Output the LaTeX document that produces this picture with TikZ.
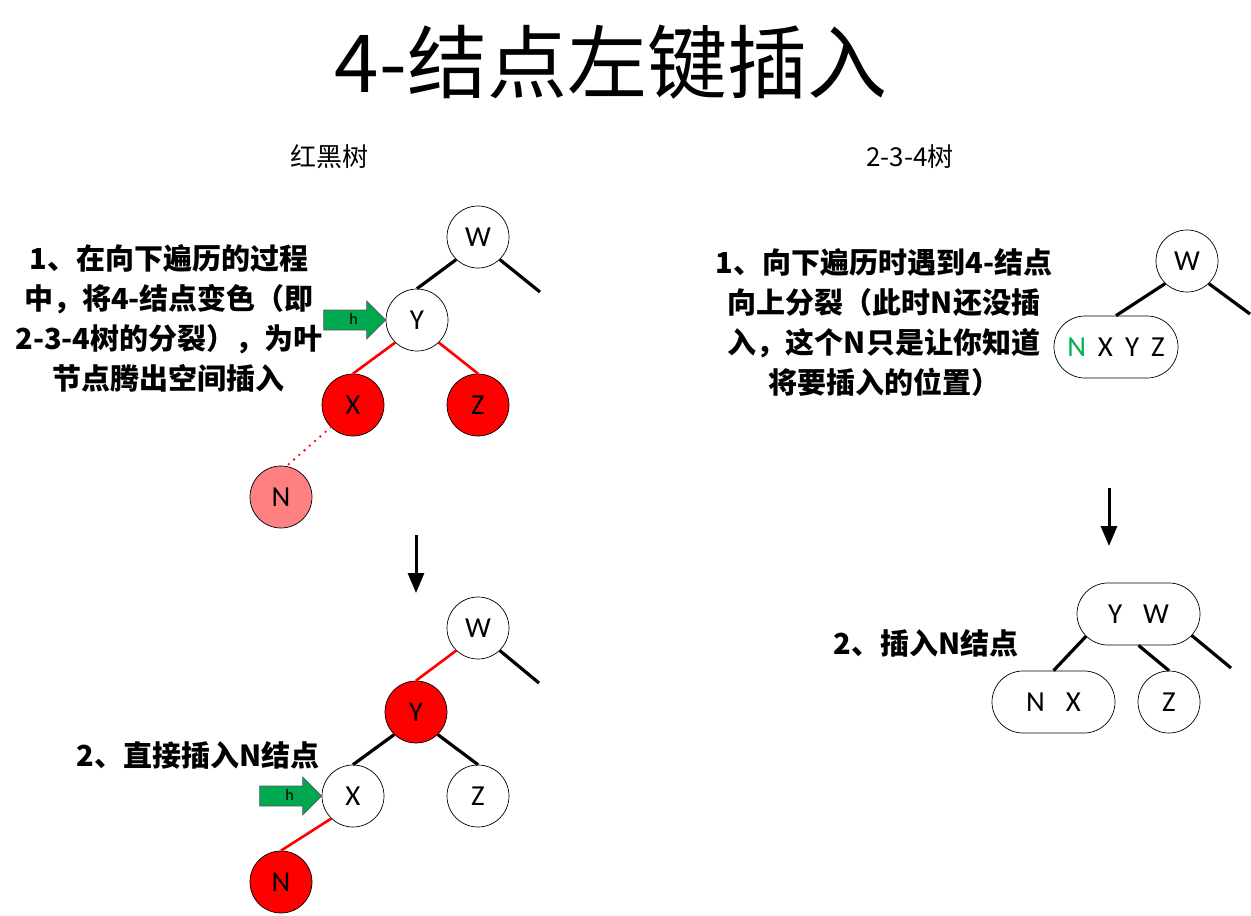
\documentclass[tikz,border=0pt]{standalone}
\usepackage{fontspec}
\setmainfont{Carlito}
\newfontfamily\cjk{Noto Sans CJK SC}
\usetikzlibrary{shapes.misc,arrows.meta}
\definecolor{rbred}{RGB}{255,0,0}
\definecolor{rbpink}{RGB}{255,128,128}
\definecolor{hgreen}{RGB}{0,168,80}
\definecolor{ngreen}{RGB}{0,176,80}

\begin{document}
\begin{tikzpicture}[x=1pt,y=-1pt,
  key/.style={circle,draw=black,line width=0.7pt,minimum size=62pt,inner sep=0pt,
    font=\fontsize{29}{29}\selectfont},
  white node/.style={key,fill=white},
  red node/.style={key,fill=rbred},
  pink node/.style={key,fill=rbpink},
  multikey/.style={rounded rectangle,draw=black,line width=0.7pt,minimum height=62pt,
    inner sep=0pt,font=\fontsize{29}{29}\selectfont},
  link/.style={line width=3.2pt},
  redlink/.style={line width=2.6pt,draw=rbred},
  note/.style={font=\cjk\bfseries\fontsize{29}{40}\selectfont,align=center},
  heading/.style={font=\cjk\fontsize{26}{26}\selectfont},
  down/.style={line width=3pt,-{Triangle[width=16pt,length=20pt]}},
  pointer/.pic={
    \filldraw[fill=hgreen,draw=black!65,line width=0.6pt]
      (-62,-10) -- (-19,-10) -- (-19,-19) -- (0,0) -- (-19,19) -- (-19,10) -- (-62,10) -- cycle;
    \node[font=\fontsize{16}{16}\selectfont] (-h) at (-32,-1) {h};
  },
]
\useasboundingbox (0,0) rectangle (1251,916);
\fill[white] (0,0) rectangle (1251,916);

% title and column headings
\node[font=\cjk\fontsize{80}{80}\selectfont] (title) at (611,62) {4-结点左键插入};
\node[heading] (rbhead) at (329,157) {红黑树};
\node[heading] (ttfhead) at (910,157) {2-3-4树};

% red-black tree, before insertion
\node[white node] (W1) at (478,237) {W};
\node[white node] (Y1) at (417,320) {Y};
\node[red node] (X1) at (353,405) {X};
\node[red node] (Z1) at (478,405) {Z};
\node[pink node] (N1) at (281,497) {N};
\coordinate (W1r) at (540,292);
\draw[link] (W1.226) -- (Y1.north);
\draw[link] (W1.314) -- (W1r);
\draw[redlink] (Y1.226) -- (X1.north);
\draw[redlink] (Y1.314) -- (Z1.north);
\draw[redlink,line cap=round,dash pattern=on 0pt off 7pt] (X1.225) -- (N1.80);
\pic (hA) at (Y1.west) {pointer};

\node[note] (noteA) at (169,318) {1、在向下遍历的过程\\中，将4-结点变色（即\\2-3-4树的分裂），为叶\\节点腾出空间插入};

\coordinate (dA1) at (416,535);
\coordinate (dA2) at (416,593);
\draw[down] (dA1) -- (dA2);

% red-black tree, after insertion
\node[white node] (W2) at (478,628) {W};
\node[red node] (Y2) at (416,712) {Y};
\node[white node] (X2) at (353,796) {X};
\node[white node] (Z2) at (478,796) {Z};
\node[red node] (N2) at (281,882) {N};
\coordinate (W2r) at (539,683);
\draw[redlink] (W2.226) -- (Y2.north);
\draw[link] (W2.314) -- (W2r);
\draw[link] (Y2.226) -- (X2.north);
\draw[link] (Y2.314) -- (Z2.north);
\draw[redlink] (X2.226) -- (N2.north);
\pic (hB) at (X2.west) {pointer};

\node[note] (noteC) at (198,755) {2、直接插入N结点};

% 2-3-4 tree, split of the 4-node
\node[white node] (W3) at (1187,261) {W};
\node[multikey,minimum width=124pt] (NXYZ) at (1116,347)
  {{\color{ngreen}N}\hspace{12pt}X\hspace{12pt}Y\hspace{12pt}Z};
\coordinate (W3r) at (1250,314);
\draw[link] (W3.226) -- (NXYZ.north);
\draw[link] (W3.314) -- (W3r);

\node[note] (noteB) at (884,322) {1、向下遍历时遇到4-结点\\向上分裂（此时N还没插\\入，这个N只是让你知道\\将要插入的位置）};

\coordinate (dB1) at (1109,488);
\coordinate (dB2) at (1109,546);
\draw[down] (dB1) -- (dB2);

% 2-3-4 tree after insertion
\node[multikey,minimum width=123pt] (YW) at (1138.5,614) {Y\hspace{21pt}W};
\node[multikey,minimum width=123pt] (NX) at (1053.5,702) {N\hspace{21pt}X};
\node[white node] (Z3) at (1169,702) {Z};
\coordinate (YWr) at (1231,668);
\draw[link] (YW.203) -- (NX.north);
\draw[link] (YW.south) -- (Z3.north);
\draw[link] (YW.338) -- (YWr);

\node[note] (noteD) at (926,643) {2、插入N结点};
\end{tikzpicture}
\end{document}
